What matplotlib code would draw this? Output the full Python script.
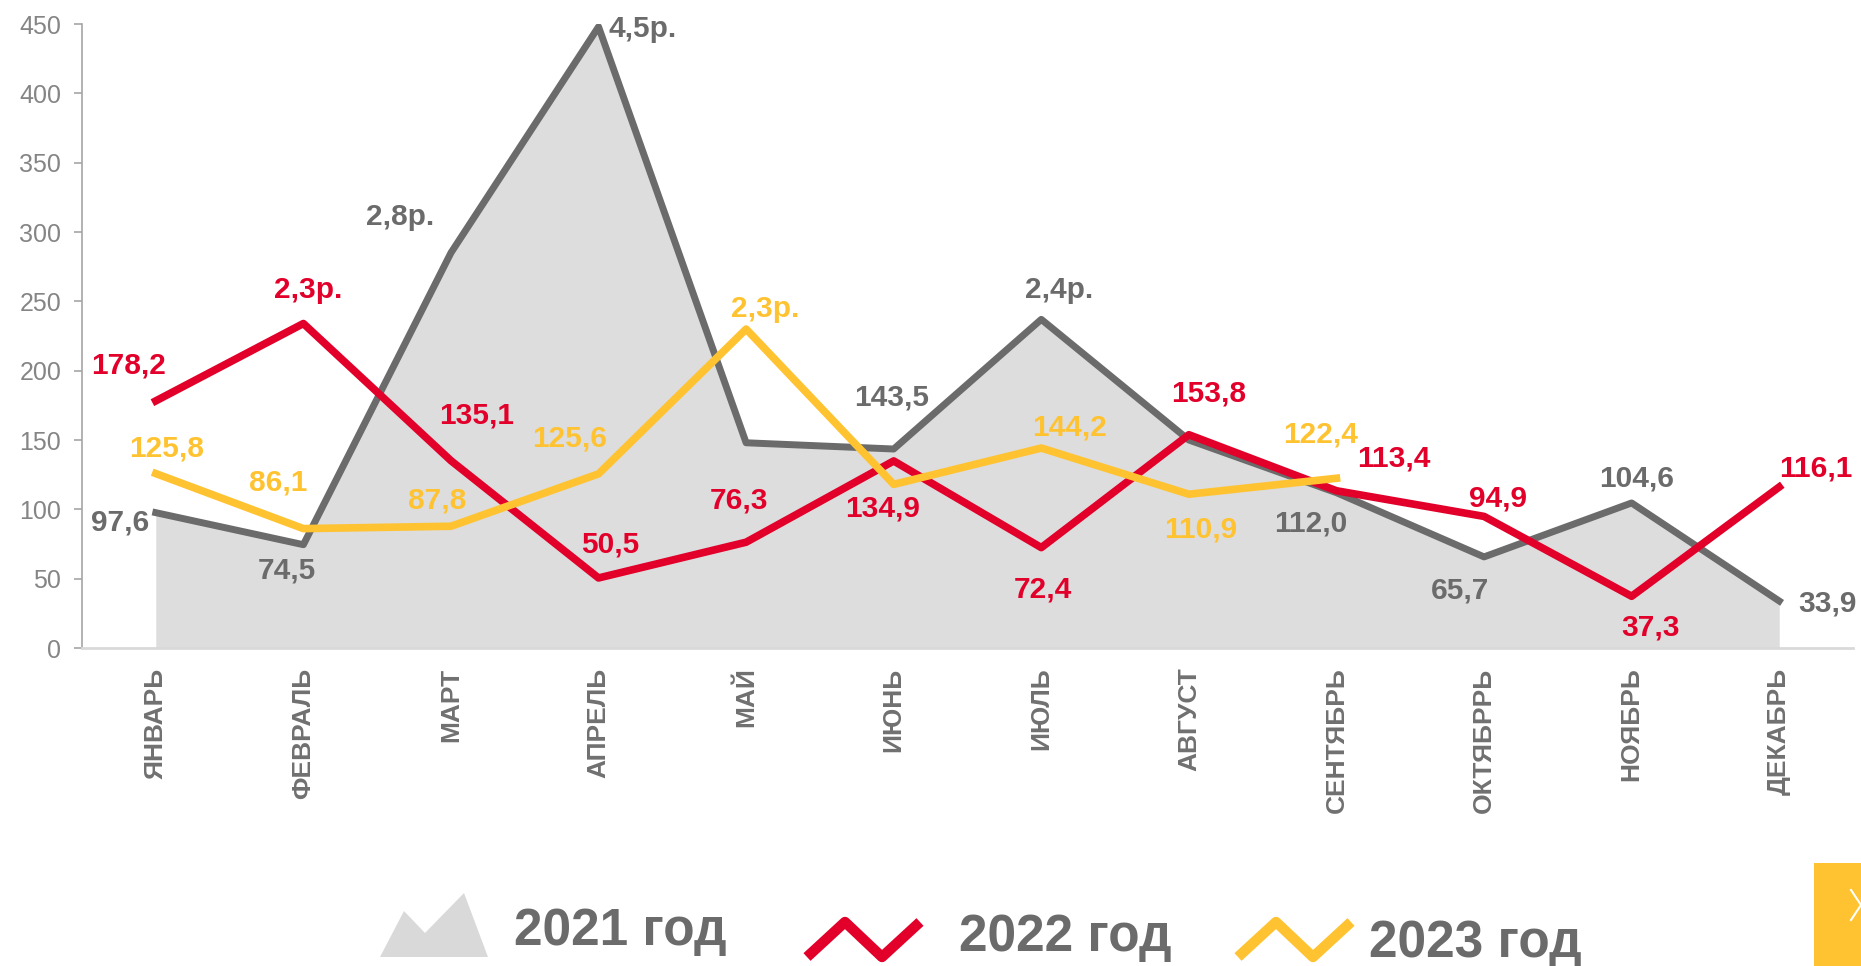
import matplotlib
matplotlib.use("Agg")
import matplotlib.pyplot as plt
from matplotlib.patches import Polygon, Rectangle

plt.rcParams['font.family'] = ['Liberation Sans', 'DejaVu Sans']

# --- data ---
months = ["ЯНВАРЬ", "ФЕВРАЛЬ", "МАРТ", "АПРЕЛЬ", "МАЙ", "ИЮНЬ", "ИЮЛЬ",
          "АВГУСТ", "СЕНТЯБРЬ", "ОКТЯБРРЬ", "НОЯБРЬ", "ДЕКАБРЬ"]

vals_2021 = [97.6, 74.5, 285.0, 448.0, 148.0, 143.5, 237.0, 150.0, 112.0, 65.7, 104.6, 33.9]
vals_2022 = [178.2, 234.0, 135.1, 50.5, 76.3, 134.9, 72.4, 153.8, 113.4, 94.9, 37.3, 116.1]
vals_2023 = [125.8, 86.1, 87.8, 125.6, 230.0, 118.0, 144.2, 110.9, 122.4]

labels_2021 = ["97,6", "74,5", "2,8р.", "4,5р.", None, "143,5", "2,4р.", None,
               "112,0", "65,7", "104,6", "33,9"]
labels_2022 = ["178,2", "2,3р.", "135,1", "50,5", "76,3", "134,9", "72,4", "153,8",
               "113,4", "94,9", "37,3", "116,1"]
labels_2023 = ["125,8", "86,1", "87,8", "125,6", "2,3р.", None, "144,2", "110,9", "122,4"]

legend_names = ["2021 год", "2022 год", "2023 год"]

# label offsets (screen px, measured on the reference; +y = down)
off_2021 = [(-30, 8), (-14, 22), (-43, -30), (37, 2), None, (-2, -43), (15, -25), None,
            (-22, 26), (-20, 28), (4, -21), (41, 2)]
off_2022 = [(-23, -30), (4, -28), (22, -38), (10, -28), (-6, -35), (-9, 40), (1, 35),
            (17, -35), (48, -27), (12, -15), (16, 26), (31, -16)]
off_2023 = [(9, -21), (-21, -39), (-12, -22), (-24, -30), (16, -17), None, (24, -17),
            (10, 30), (-13, -37)]

GRAY = "#6b6b6b"
FILL = "#dddddd"
RED = "#e2002a"
YELLOW = "#ffc331"
TICK = "#858585"

S = 1861 / 1568  # reference measured on the shrunk picture

fig = plt.figure(figsize=(18.61, 9.66), dpi=100)
ax = fig.add_axes([82 / 1861, 1 - 648 / 966, (1853 - 82) / 1861, (648 - 24) / 966])

x = list(range(len(months)))
ax.fill_between(x, 0, vals_2021, color=FILL, lw=0, zorder=1)
ax.plot(x, vals_2021, color=GRAY, lw=5, zorder=2)
ax.plot(x, vals_2022, color=RED, lw=5.5, zorder=3)
ax.plot(list(range(len(vals_2023))), vals_2023, color=YELLOW, lw=5.5, zorder=4)


def put_labels(vals, labels, offsets, color):
    for i, (v, lab, off) in enumerate(zip(vals, labels, offsets)):
        if lab is None:
            continue
        ax.annotate(lab, (i, v), xytext=(off[0] * S, -off[1] * S),
                    textcoords="offset pixels", ha="center", va="center",
                    fontsize=21.5, fontweight="bold", color=color, zorder=6,
                    annotation_clip=False)


put_labels(vals_2021, labels_2021, off_2021, GRAY)
put_labels(vals_2022, labels_2022, off_2022, RED)
put_labels(vals_2023, labels_2023, off_2023, YELLOW)

ax.set_xlim(-0.5, 11.5)
ax.set_ylim(0, 450)
ax.set_yticks(range(0, 451, 50))
ax.tick_params(axis="y", colors="#a6a6a6", labelcolor=TICK, labelsize=18,
               length=6, width=1.2, pad=9)
ax.set_xticks(x)
ax.set_xticklabels(months, rotation=90, fontsize=19, fontweight="bold", color="#707070")
ax.tick_params(axis="x", length=0, pad=14)
for side in ["top", "right"]:
    ax.spines[side].set_visible(False)
ax.spines["left"].set_color("#a6a6a6")
ax.spines["left"].set_linewidth(1.2)
ax.spines["bottom"].set_color("#d9d9d9")
ax.spines["bottom"].set_linewidth(2)

# --- hand-made legend and slide decoration (figure pixel coords) ---
ov = fig.add_axes([0, 0, 1, 1])
ov.set_xlim(0, 1861)
ov.set_ylim(966, 0)
ov.axis("off")
ov.patch.set_visible(False)

ov.add_patch(Polygon([(380, 957), (404, 911), (425, 933), (464, 893), (488, 957)],
                     closed=True, color="#d9d9d9", lw=0))
ov.plot([807, 845, 882, 920], [957, 922, 957, 922], color=RED, lw=7.5,
        solid_capstyle="butt")
ov.plot([1238, 1276, 1313, 1351], [957, 922, 957, 922], color=YELLOW, lw=7.5,
        solid_capstyle="butt")
for name, xt, yb in zip(legend_names, [514, 959, 1369], [945, 951, 957]):
    ov.text(xt, yb, name, fontsize=37, fontweight="bold", color=GRAY,
            ha="left", va="baseline")

ov.add_patch(Rectangle((1814, 863), 47, 103, color=YELLOW, lw=0))
ov.plot([1851, 1861, 1851], [890, 905, 920], color="white", lw=1.5)

fig.savefig("out.png", dpi=100)
